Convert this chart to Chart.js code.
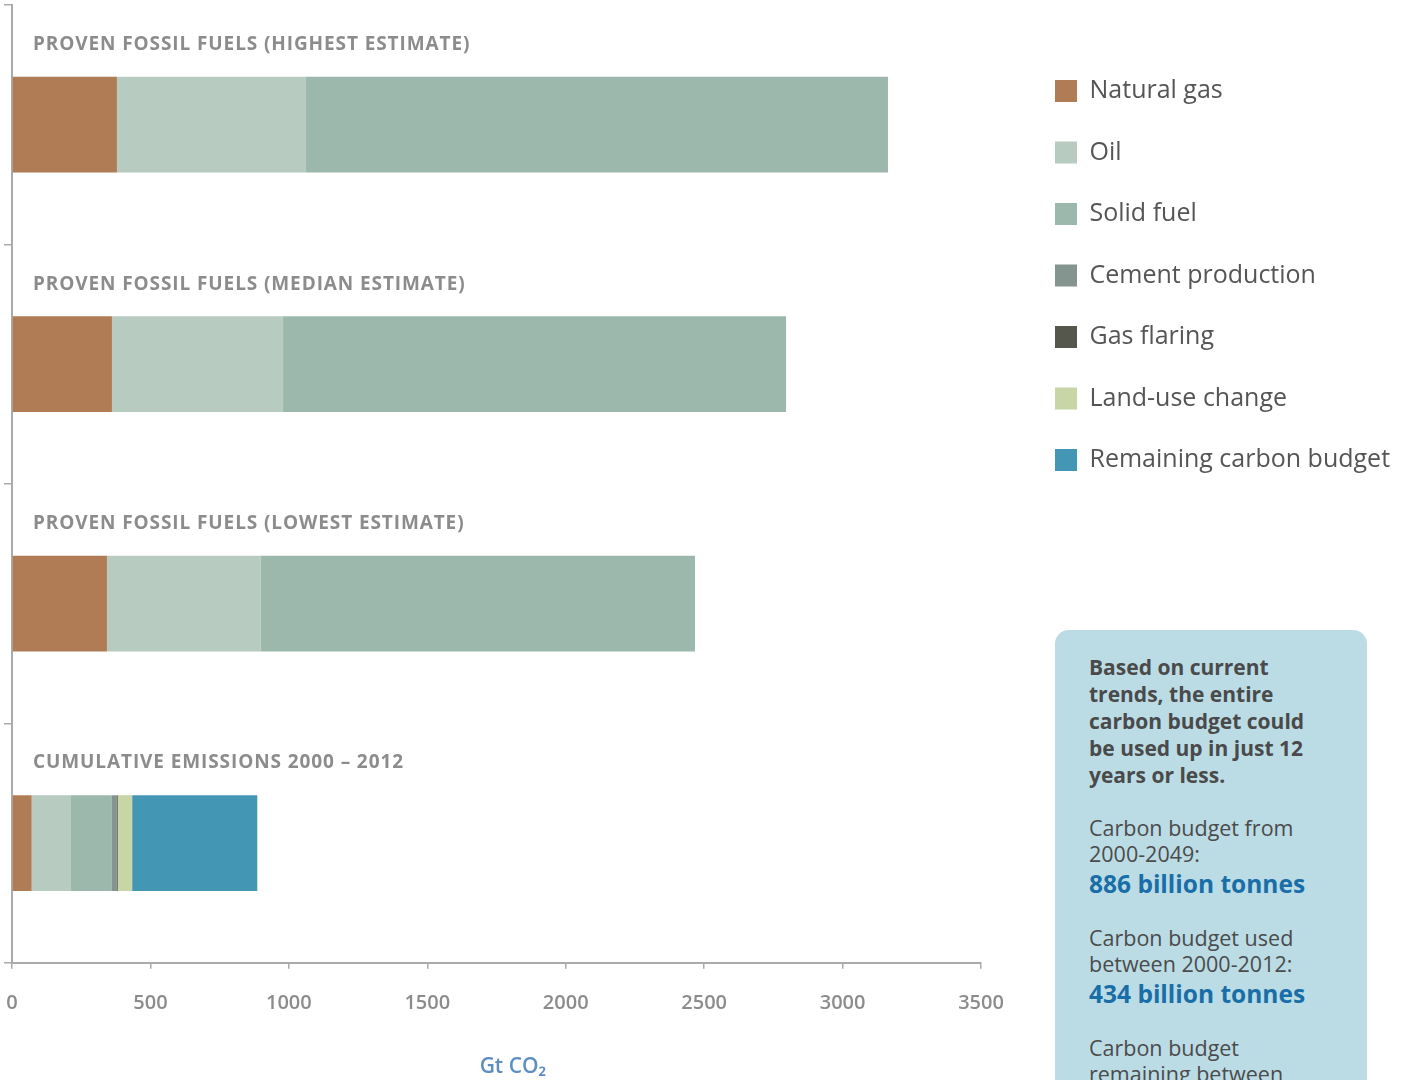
<!DOCTYPE html>
<html><head><meta charset="utf-8">
<script src="https://cdn.jsdelivr.net/npm/chart.js@4.4.1/dist/chart.umd.min.js"></script>
<style>
html,body{margin:0;padding:0;overflow:hidden;background:#fff;width:1408px;height:1080px;}
#wrap{position:absolute;left:0;top:0;width:1408px;height:1090px;}
#info{position:absolute;left:1055px;top:630px;width:278px;height:470px;padding:0 0 0 34px;background:#bbdce5;border-radius:14px;font-family:"Open Sans",sans-serif;color:#4b4b4b;white-space:nowrap;}
#info .lead{margin-top:24px;font-weight:700;font-size:21px;line-height:27px;color:#4a4a4a;}
#info .p{margin-top:26px;font-size:21.5px;line-height:26px;}
#info .big{font-weight:700;font-size:24.5px;line-height:30px;color:#1a6ea8;margin-top:2px;}
</style></head><body>
<div id="wrap"><canvas id="c"></canvas></div>
<div id="info">
<div class="lead">Based on current<br>trends, the entire<br>carbon budget could<br>be used up in just 12<br>years or less.</div>
<div class="p">Carbon budget from<br>2000-2049:<div class="big">886 billion tonnes</div></div>
<div class="p">Carbon budget used<br>between 2000-2012:<div class="big">434 billion tonnes</div></div>
<div class="p">Carbon budget<br>remaining between</div>
</div>
<script>
const categories = [
  'PROVEN FOSSIL FUELS (HIGHEST ESTIMATE)',
  'PROVEN FOSSIL FUELS (MEDIAN ESTIMATE)',
  'PROVEN FOSSIL FUELS (LOWEST ESTIMATE)',
  'CUMULATIVE EMISSIONS 2000 \u2013 2012'
];
const seriesNames = ['Natural gas','Oil','Solid fuel','Cement production','Gas flaring','Land-use change','Remaining carbon budget'];
const naturalGas = [379, 361, 343, 71];
const oil = [683, 618, 556, 142];
const solidFuel = [2102, 1817, 1568, 148];
const cementProduction = [0, 0, 0, 18];
const gasFlaring = [0, 0, 0, 3];
const landUseChange = [0, 0, 0, 52];
const remainingBudget = [0, 0, 0, 452];
const xTicks = [0, 500, 1000, 1500, 2000, 2500, 3000, 3500];
const colors = ['#b07c56','#b8cbc1','#9cb8ac','#84948f','#55564c','#c8d5a6','#4397b5'];
const seriesData = [naturalGas, oil, solidFuel, cementProduction, gasFlaring, landUseChange, remainingBudget];

const FONT = '"Open Sans", sans-serif';
const LEGEND_PAD = 36.5;

const catLabels = {
  id: 'catLabels',
  afterDatasetsDraw(chart) {
    const y = chart.scales.y, ctx = chart.ctx;
    ctx.save();
    ctx.font = '700 19px ' + FONT;
    ctx.letterSpacing = '0.9px';
    ctx.fillStyle = '#8c8c8c';
    ctx.textBaseline = 'middle';
    ctx.textAlign = 'left';
    categories.forEach((c, i) => {
      ctx.fillText(c, chart.chartArea.left + 21, y.getPixelForValue(i) - 80);
    });
    ctx.letterSpacing = '0px';
    ctx.restore();
  }
};

const legendShift = {
  id: 'legendShift',
  afterLayout(chart) {
    const lg = chart.legend;
    if (!lg) return;
    const dx = 1055 - LEGEND_PAD - lg.left;
    lg.left += dx; lg.right += dx;
  }
};

const chart = new Chart(document.getElementById('c'), {
  type: 'bar',
  data: {
    labels: categories,
    datasets: seriesNames.map((n, i) => ({
      label: n, data: seriesData[i], backgroundColor: colors[i], borderWidth: 0,
      categoryPercentage: 0.8, barPercentage: 0.5
    }))
  },
  options: {
    indexAxis: 'y',
    responsive: true,
    maintainAspectRatio: false,
    animation: false,
    layout: { padding: { left: 4, top: 5, right: 0, bottom: 8 } },
    scales: {
      x: {
        stacked: true, min: 0, max: 3500,
        afterFit: s => { s.paddingRight = 1408 - 981; s.paddingLeft = 0; },
        afterBuildTicks: s => { s.ticks = xTicks.map(v => ({ value: v })); },
        grid: { drawOnChartArea: false, drawTicks: true, tickLength: 6, color: '#aaaaaa', lineWidth: 1.5 },
        border: { color: '#aaaaaa', width: 2 },
        ticks: { font: { family: FONT, size: 20, weight: '600' }, color: '#8c8c8c', padding: 22, maxRotation: 0,
                 callback: v => String(v) },
        title: { display: true, text: '      Gt CO\u2082', color: '#5b8fc3', font: { family: FONT, size: 21, weight: '600' }, padding: { top: 18, bottom: 2 } }
      },
      y: {
        stacked: true,
        grid: { drawOnChartArea: false, drawTicks: true, tickLength: 8, offset: true, color: '#aaaaaa', lineWidth: 1.5 },
        border: { color: '#aaaaaa', width: 2 },
        ticks: { display: false }
      }
    },
    plugins: {
      tooltip: { enabled: false },
      legend: {
        position: 'right', align: 'start', maxWidth: 420,
        title: { display: true, text: ' ', font: { size: 10, lineHeight: 1 }, padding: { top: 27, bottom: 0 } },
        labels: { boxWidth: 22, boxHeight: 22, padding: LEGEND_PAD, color: '#555555', font: { family: FONT, size: 25 } }
      }
    }
  },
  plugins: [catLabels, legendShift]
});
Promise.all(['25px "Open Sans"', '700 19px "Open Sans"', '600 20px "Open Sans"', '600 21px "Open Sans"', '700 21px "Open Sans"'].map(f => document.fonts.load(f)))
  .then(() => chart.update());
</script>
</body></html>
